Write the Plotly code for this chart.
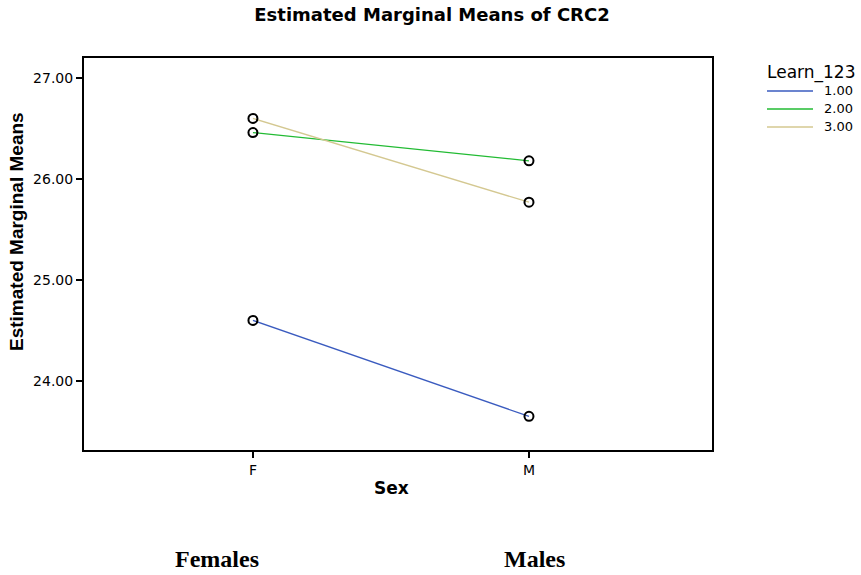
import plotly.graph_objects as go

# Data
sex_labels = ["F", "M"]
sex_pos = [0, 1]
groups = ["1.00", "2.00", "3.00"]
group_colors = ["#3a5bbf", "#22bb33", "#d4c891"]
means = {
    "1.00": [24.60, 23.65],
    "2.00": [26.46, 26.18],
    "3.00": [26.60, 25.77],
}
y_ticks = [24, 25, 26, 27]

SANS = "Liberation Sans, Arial, sans-serif"
WIDE = "DejaVu Sans, Verdana, sans-serif"
SERIF = "Liberation Serif, Times New Roman, serif"

W, H = 861, 575
# plot box in pixels
BOX_L, BOX_R, BOX_T, BOX_B = 84, 712, 58, 450


def px(x):
    return (x - BOX_L) / (BOX_R - BOX_L)


def py(y):
    return (BOX_B - y) / (BOX_B - BOX_T)


def label(text, x, y, size, family=SANS, angle=0, xanchor="center"):
    fig.add_annotation(
        text=text, x=px(x), y=py(y), xref="paper", yref="paper",
        xanchor=xanchor, yanchor="middle", showarrow=False, textangle=angle,
        font=dict(size=size, family=family),
    )


fig = go.Figure()

for g, c in zip(groups, group_colors):
    fig.add_trace(
        go.Scatter(
            x=sex_pos,
            y=means[g],
            mode="lines",
            name=g,
            showlegend=False,
            line=dict(color=c, width=1.3),
        )
    )

# open circle markers on top of each line
for g in groups:
    fig.add_trace(
        go.Scatter(
            x=sex_pos,
            y=means[g],
            mode="markers",
            showlegend=False,
            marker=dict(symbol="circle-open", size=9, color="black", line=dict(width=2)),
            hoverinfo="skip",
        )
    )

axis_common = dict(
    ticks="outside",
    ticklen=6,
    tickwidth=2,
    tickcolor="black",
    tickfont=dict(size=14, family=WIDE),
    showgrid=False,
    zeroline=False,
    showline=True,
    linecolor="black",
    linewidth=2,
    mirror=True,
    automargin=False,
)

fig.update_layout(
    width=W,
    height=H,
    paper_bgcolor="white",
    plot_bgcolor="white",
    font=dict(family=SANS, color="black"),
    margin=dict(l=BOX_L, r=W - BOX_R, t=BOX_T, b=H - BOX_B),
    title=dict(
        text="<b>Estimated Marginal Means of CRC2</b>",
        x=432 / W,
        xanchor="center",
        y=1 - 15 / H,
        yanchor="middle",
        font=dict(size=18, family=WIDE),
    ),
    xaxis=dict(range=[-0.612, 1.663], tickvals=sex_pos, ticktext=sex_labels, **axis_common),
    yaxis=dict(
        range=[23.317, 27.198],
        tickvals=y_ticks,
        ticktext=[f"{v:.2f}" for v in y_ticks],
        **axis_common,
    ),
    showlegend=False,
)

# axis titles
label("<b>Sex</b>", 391, 488, 17, WIDE)
label("<b>Estimated Marginal Means</b>", 16, 232, 19, SANS, angle=-90)

# legend drawn by hand to match the spacing of the original
label("Learn_123", 765, 72, 17, WIDE, xanchor="left")
for i, (g, c) in enumerate(zip(groups, group_colors)):
    yy = 91 + 18 * i
    fig.add_shape(
        type="line", xref="paper", yref="paper",
        x0=px(767), x1=px(813), y0=py(yy), y1=py(yy),
        line=dict(color=c, width=1.5),
    )
    label(g, 822, yy, 13, WIDE, xanchor="left")

label("<b>Females</b>", 217, 559, 24, SERIF)
label("<b>Males</b>", 534, 559, 24, SERIF)

# drop the default 8px body margin so the figure fills the window
fig.write_html(
    "out.html",
    config={"displayModeBar": False},
    post_script="document.body.style.margin='0';",
)
